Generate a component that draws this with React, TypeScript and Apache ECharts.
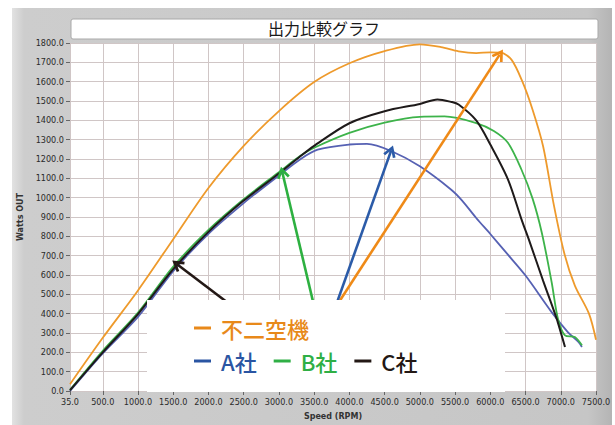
import React, { useEffect, useRef } from "react";
import * as echarts from "echarts";

// ---- axis ticks ----
const xTickValues = [35, 500, 1000, 1500, 2000, 2500, 3000, 3500, 4000, 4500, 5000, 5500, 6000, 6500, 7000, 7500];
const yMin = 0;
const yMax = 1800;
const yStep = 100;

// ---- series: 不二空機 (orange) ----
const fujiRpm = [35, 500, 1000, 1500, 2000, 2500, 3000, 3500, 4000, 4500, 5000, 5300, 5550, 5800, 6000, 6150, 6300, 6450, 6600, 6750, 6900, 7050, 7200, 7400, 7500];
const fujiWatts = [35, 275, 520, 785, 1050, 1268, 1448, 1598, 1695, 1758, 1793, 1779, 1757, 1748, 1752, 1750, 1714, 1605, 1455, 1265, 965, 712, 545, 400, 265];

// ---- series: A社 (blue) ----
const aRpm = [35, 500, 1000, 1500, 2000, 2500, 3000, 3300, 3550, 4000, 4250, 4600, 5000, 5450, 5600, 5800, 6000, 6250, 6500, 6870, 7100, 7250, 7300];
const aWatts = [0, 195, 383, 620, 813, 972, 1115, 1198, 1248, 1275, 1278, 1240, 1162, 1040, 985, 895, 812, 705, 597, 408, 305, 254, 228];

// ---- series: B社 (green) ----
const bRpm = [35, 500, 1000, 1500, 2000, 2500, 3000, 3300, 3500, 4000, 4500, 5000, 5350, 5800, 6050, 6250, 6440, 6600, 6730, 6870, 6960, 7060, 7200, 7300];
const bWatts = [6, 208, 405, 643, 833, 992, 1132, 1215, 1258, 1335, 1388, 1418, 1420, 1386, 1345, 1284, 1147, 995, 820, 564, 374, 288, 279, 236];

// ---- series: C社 (black) ----
const cRpm = [35, 500, 1000, 1500, 2000, 2500, 3000, 3300, 3500, 4000, 4500, 5000, 5250, 5450, 5550, 5800, 6000, 6250, 6450, 6550, 6750, 6950, 7060];
const cWatts = [4, 200, 398, 630, 823, 985, 1125, 1213, 1268, 1385, 1447, 1485, 1508, 1495, 1482, 1400, 1275, 1095, 880, 780, 570, 365, 228];

// ---- annotation arrows: [tailRpm, tailWatts, headRpm, headWatts] ----
const arrowC = [2550, 380, 1554, 656];
const arrowB = [3541, 375, 3049, 1130];
const arrowA = [3741, 373, 4590, 1241];
const arrowFuji = [3700, 375, 6133, 1740];

const COLORS = {
  fuji: "#EE9A2C",
  a: "#5661B3",
  b: "#3DB34A",
  c: "#1E1A1A",
};
const ARROW_COLORS = {
  fuji: "#EF8A17",
  a: "#2B5BA8",
  b: "#2DB040",
  c: "#231815",
};
const LEGEND_COLORS = {
  fuji: "#E8891A",
  a: "#2A55A2",
  b: "#2FAF45",
  c: "#231815",
};

const zip = (xs: number[], ys: number[]) => xs.map((x, i) => [x, ys[i]]);

const chevron = "path://M5,0 L10,9 L8.2,10.2 L5,4.4 L1.8,10.2 L0,9 Z";

const arrowMark = (a: number[], color: string) => ({
  silent: true,
  animation: false,
  symbol: ["none", chevron],
  symbolSize: [13, 12],
  label: { show: false },
  emphasis: { disabled: true },
  lineStyle: { color, width: 2.6, type: "solid", opacity: 1 },
  data: [[{ coord: [a[0], a[1]] }, { coord: [a[2], a[3]] }]],
});

const labelFont = "'Liberation Sans Narrow', 'DejaVu Sans Condensed', 'Liberation Sans', sans-serif";
const cjkFont = "'Noto Sans CJK JP', 'Noto Sans', sans-serif";

export default function App() {
  const ref = useRef<HTMLDivElement>(null);

  useEffect(() => {
    if (!ref.current) return;
    const chart = echarts.init(ref.current, undefined, { renderer: "svg" });

    const lineSeries = (name: string, data: number[][], color: string, width: number, arrow: number[], arrowColor: string) => ({
      name,
      type: "line",
      data,
      smooth: 0.3,
      showSymbol: false,
      symbol: "none",
      color,
      itemStyle: { color },
      lineStyle: { color, width },
      z: 2,
      markLine: arrowMark(arrow, arrowColor),
    });

    const legendText = { fontSize: 22, fontWeight: 500, fontFamily: cjkFont, padding: [0, 0, 0, 5] };

    const option: any = {
      animation: false,
      title: {
        text: "出力比較グラフ",
        left: 268,
        top: 20,
        padding: 0,
        textStyle: { fontSize: 16, fontWeight: "normal", color: "#1a1a1a", fontFamily: cjkFont },
      },
      grid: {
        left: 70,
        right: 19,
        top: 43,
        bottom: 33,
        show: true,
        backgroundColor: "#ffffff",
        borderWidth: 0,
      },
      xAxis: {
        type: "value",
        min: 35,
        max: 7500,
        name: "Speed (RPM)",
        nameLocation: "middle",
        nameGap: 21,
        nameTextStyle: { fontSize: 8, fontWeight: "bold", color: "#333", fontFamily: "'DejaVu Sans', sans-serif" },
        axisLine: { show: false },
        axisTick: { show: true, customValues: xTickValues, length: 4, lineStyle: { color: "#666" } },
        axisLabel: {
          customValues: xTickValues,
          formatter: (v: number) => v.toFixed(1),
          fontSize: 9,
          color: "#2a2a2a",
          margin: 6,
          fontFamily: labelFont,
        },
        splitLine: { show: true, lineStyle: { color: "#d0c6c6", width: 1 } },
      },
      yAxis: {
        type: "value",
        min: yMin,
        max: yMax,
        interval: yStep,
        name: "Watts OUT",
        nameLocation: "middle",
        nameGap: 42,
        nameRotate: 90,
        nameTextStyle: { fontSize: 8, fontWeight: "bold", color: "#333", fontFamily: "'DejaVu Sans', sans-serif" },
        axisLine: { show: false },
        axisTick: { show: true, length: 4, lineStyle: { color: "#666" } },
        axisLabel: {
          formatter: (v: number) => v.toFixed(1),
          fontSize: 9,
          color: "#2a2a2a",
          margin: 6,
          fontFamily: labelFont,
        },
        splitLine: { show: true, lineStyle: { color: "#d0c6c6", width: 1 } },
      },
      legend: [
        {
          data: [{ name: "不二空機", itemStyle: { color: LEGEND_COLORS.fuji }, textStyle: { color: LEGEND_COLORS.fuji } }],
          left: 194,
          top: 317,
          padding: 0,
          icon: "rect",
          itemWidth: 17,
          itemHeight: 3,
          itemGap: 17,
          selectedMode: false,
          z: 20,
          textStyle: legendText,
        },
        {
          data: [
            { name: "A社", itemStyle: { color: LEGEND_COLORS.a }, textStyle: { color: LEGEND_COLORS.a } },
            { name: "B社", itemStyle: { color: LEGEND_COLORS.b }, textStyle: { color: LEGEND_COLORS.b } },
            { name: "C社", itemStyle: { color: LEGEND_COLORS.c }, textStyle: { color: LEGEND_COLORS.c } },
          ],
          left: 194,
          top: 350,
          padding: 0,
          icon: "rect",
          itemWidth: 17,
          itemHeight: 3,
          itemGap: 17,
          selectedMode: false,
          z: 20,
          textStyle: legendText,
        },
      ],
      graphic: [
        {
          type: "rect",
          z: -10,
          silent: true,
          shape: { x: 12, y: 8, width: 600, height: 417 },
          style: {
            fill: {
              type: "linear",
              x: 0,
              y: 0,
              x2: 1,
              y2: 0,
              colorStops: [
                { offset: 0, color: "#e2e2e2" },
                { offset: 0.02, color: "#cdcdcd" },
                { offset: 0.96, color: "#c6c6c6" },
                { offset: 1, color: "#b4b4b4" },
              ],
            },
          },
        },
        {
          type: "rect",
          z: -5,
          silent: true,
          shape: { x: 71, y: 19, width: 527, height: 20, r: 2 },
          style: { fill: "#ffffff", stroke: "#a9a9a9", lineWidth: 1 },
        },
        {
          type: "rect",
          z: 10,
          silent: true,
          shape: { x: 147, y: 300, width: 358, height: 92 },
          style: { fill: "#ffffff" },
        },
      ],
      series: [
        lineSeries("不二空機", zip(fujiRpm, fujiWatts), COLORS.fuji, 1.8, arrowFuji, ARROW_COLORS.fuji),
        lineSeries("A社", zip(aRpm, aWatts), COLORS.a, 1.8, arrowA, ARROW_COLORS.a),
        lineSeries("B社", zip(bRpm, bWatts), COLORS.b, 1.8, arrowB, ARROW_COLORS.b),
        lineSeries("C社", zip(cRpm, cWatts), COLORS.c, 2, arrowC, ARROW_COLORS.c),
      ],
    };

    chart.setOption(option);
    return () => chart.dispose();
  }, []);

  return (
    <div
      ref={ref}
      style={{ position: "fixed", left: 0, top: 0, width: 615, height: 425, background: "#ffffff" }}
    />
  );
}
